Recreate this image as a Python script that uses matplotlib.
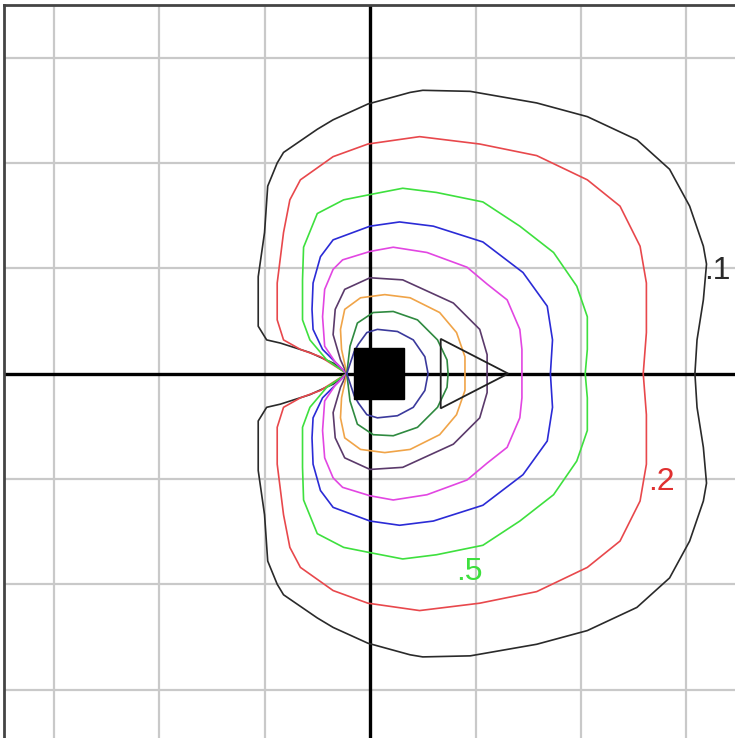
import numpy as np
import matplotlib
matplotlib.use("Agg")
import matplotlib.pyplot as plt
from matplotlib.patches import Rectangle, Polygon

# contour levels, outer to inner (upper half;
# the lower half is its mirror image about the x axis)
level_colors = ['#2a2a2a', '#e8484c', '#3ee03e', '#2b2bd6', '#e246e2',
                '#5b3a6b', '#f0a448', '#2f8a40', '#3b3a9c']

level_01_x = [-0.22, -0.35, -0.57, -0.85, -0.98, -1.06, -1.06, -1.00, -0.97, -0.88, -0.82,
              -0.50, -0.35, -0.02, 0.38, 0.50, 0.95, 1.58, 2.06, 2.53, 2.84, 3.03,
              3.16, 3.19, 3.16, 3.10, 3.08]
level_01_y = [0.00, 0.10, 0.20, 0.29, 0.32, 0.45, 0.92, 1.34, 1.78, 2.00, 2.10,
              2.32, 2.41, 2.56, 2.67, 2.69, 2.68, 2.57, 2.44, 2.22, 1.94, 1.59,
              1.21, 1.04, 0.70, 0.32, 0.00]

level_02_x = [-0.22, -0.47, -0.66, -0.82, -0.88, -0.88, -0.82, -0.76, -0.66, -0.35, -0.02,
              0.47, 1.04, 1.58, 2.06, 2.37, 2.56, 2.62, 2.62, 2.59]
level_02_y = [0.00, 0.16, 0.23, 0.32, 0.51, 0.86, 1.34, 1.65, 1.84, 2.06, 2.18,
              2.25, 2.18, 2.07, 1.84, 1.59, 1.21, 0.86, 0.39, 0.00]

level_05_x = [-0.22, -0.41, -0.57, -0.64, -0.64, -0.63, -0.50, -0.25, 0.00, 0.31, 0.63,
              1.07, 1.42, 1.74, 1.96, 2.06, 2.06, 2.04]
level_05_y = [0.00, 0.13, 0.32, 0.51, 0.89, 1.20, 1.52, 1.65, 1.70, 1.76, 1.72,
              1.63, 1.40, 1.15, 0.83, 0.54, 0.23, 0.00]

level_4_x = [-0.22, -0.33, -0.45, -0.54, -0.55, -0.54, -0.47, -0.35, 0.00, 0.28, 0.60,
             1.07, 1.45, 1.68, 1.73, 1.71]
level_4_y = [0.00, 0.11, 0.23, 0.42, 0.61, 0.86, 1.11, 1.27, 1.40, 1.44, 1.40,
             1.25, 0.96, 0.64, 0.32, 0.00]

level_5_x = [-0.22, -0.33, -0.43, -0.45, -0.43, -0.35, -0.26, 0.00, 0.22, 0.54, 0.92,
             1.11, 1.30, 1.42, 1.44, 1.44]
level_5_y = [0.00, 0.11, 0.26, 0.54, 0.80, 0.99, 1.08, 1.16, 1.20, 1.15, 1.01,
             0.85, 0.70, 0.42, 0.23, 0.00]

level_6_x = [-0.22, -0.28, -0.35, -0.33, -0.24, 0.00, 0.31, 0.79, 1.04, 1.11, 1.11]
level_6_y = [0.00, 0.13, 0.37, 0.61, 0.80, 0.91, 0.89, 0.67, 0.42, 0.18, 0.00]

level_7_x = [-0.22, -0.27, -0.28, -0.24, -0.09, 0.14, 0.38, 0.66, 0.82, 0.90, 0.90]
level_7_y = [0.00, 0.23, 0.42, 0.61, 0.72, 0.75, 0.72, 0.58, 0.39, 0.16, 0.00]

level_8_x = [-0.22, -0.19, -0.12, 0.03, 0.22, 0.45, 0.64, 0.73, 0.74]
level_8_y = [0.00, 0.26, 0.48, 0.58, 0.59, 0.51, 0.32, 0.13, 0.00]

level_9_x = [-0.22, -0.15, -0.11, -0.03, 0.07, 0.26, 0.41, 0.52, 0.55]
level_9_y = [0.00, 0.21, 0.28, 0.39, 0.42, 0.40, 0.32, 0.16, 0.00]

levels_x = [level_01_x, level_02_x, level_05_x, level_4_x, level_5_x,
            level_6_x, level_7_x, level_8_x, level_9_x]
levels_y = [level_01_y, level_02_y, level_05_y, level_4_y, level_5_y,
            level_6_y, level_7_y, level_8_y, level_9_y]

# level labels
label_text = ['.1', '.2', '.5']
label_x = [3.17, 2.64, 0.82]
label_y = [0.97, -1.03, -1.88]
label_colors = ['#2a2a2a', '#e03030', '#3ee03e']

# source box and the triangle marker
box_x, box_y, box_w, box_h = -0.15, -0.24, 0.47, 0.48
tri_x = [0.67, 1.31, 0.67]
tri_y = [0.33, 0.0, -0.33]

fig = plt.figure(figsize=(7.35, 7.38), dpi=100)
ax = fig.add_axes([4 / 735, 0, 731 / 735, 733 / 738])
ax.set_xlim(-3.47, 3.46)
ax.set_ylim(-3.46, 3.50)

# grid
for g in range(-3, 4):
    if g == 0:
        continue
    ax.axvline(g, color='#c9c9c9', lw=1.6, zorder=0)
    ax.axhline(g, color='#c9c9c9', lw=1.6, zorder=0)
ax.axvline(0, color='black', lw=2.4, zorder=1)
ax.axhline(0, color='black', lw=2.4, zorder=1)

# contours
for xs, ys, c in zip(levels_x, levels_y, level_colors):
    xs = np.asarray(xs)
    ys = np.asarray(ys)
    full_x = np.concatenate([xs, xs[::-1][1:]])
    full_y = np.concatenate([ys, -ys[::-1][1:]])
    ax.plot(full_x, full_y, color=c, lw=1.2, zorder=2)

ax.add_patch(Polygon(np.column_stack([tri_x, tri_y]), closed=True, fill=False,
                     edgecolor='#222222', lw=1.3, zorder=3))
ax.add_patch(Rectangle((box_x, box_y), box_w, box_h, color='black', zorder=4))

for t, x, y, c in zip(label_text, label_x, label_y, label_colors):
    ax.text(x, y, t, color=c, fontsize=23, family='Liberation Sans',
            ha='left', va='center', zorder=5)

ax.set_xticks([])
ax.set_yticks([])
for side in ['right', 'bottom']:
    ax.spines[side].set_visible(False)
for side in ['left', 'top']:
    ax.spines[side].set_color('#444444')
    ax.spines[side].set_linewidth(2)

fig.savefig('out.png', dpi=100)
